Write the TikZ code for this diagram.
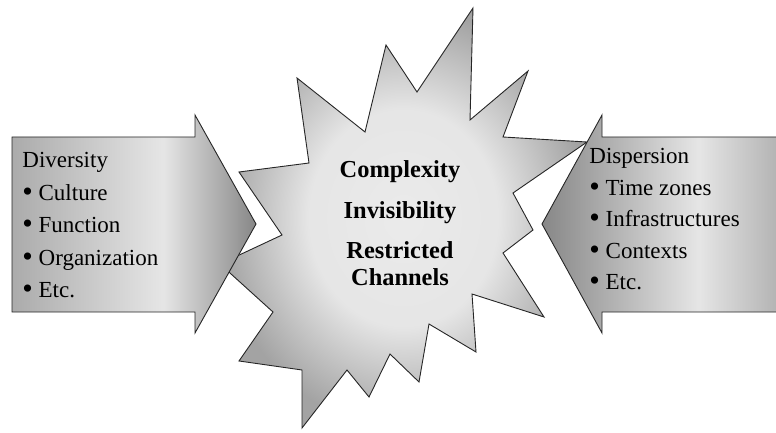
\documentclass[tikz,border=0pt]{standalone}
\usepackage{fontspec}
\setmainfont{Liberation Serif}
\usepackage{tikz}
\usetikzlibrary{positioning}

\pgfdeclarehorizontalshading{leftshade}{100bp}{color(0bp)=(black!33); color(25bp)=(black!33); color(56bp)=(black!10); color(75bp)=(black!47); color(100bp)=(black!47)}
\pgfdeclarehorizontalshading{rightshade}{100bp}{color(0bp)=(black!47); color(25bp)=(black!47); color(58bp)=(black!10); color(75bp)=(black!30); color(100bp)=(black!30)}
\pgfdeclareradialshading{burstshade}{\pgfpoint{0bp}{0bp}}{color(0bp)=(black!8); color(13bp)=(black!10); color(25bp)=(black!36); color(50bp)=(black!36)}

\newcommand{\lbul}{\raisebox{-0.7pt}{\fontsize{15}{14}\selectfont\textbullet}}

\tikzset{
	outline/.style={draw=black!85,line width=0.45pt,line join=miter},
	listtext/.style={anchor=base west,inner sep=0pt,font=\fontsize{11.5}{14}\selectfont},
	bursttext/.style={align=center,inner sep=0pt,font=\fontsize{12.2}{14}\selectfont\bfseries}
}

\begin{document}
\begin{tikzpicture}[x=0.5pt,y=-0.5pt]
		\useasboundingbox (0,0) rectangle (776,433);
		\draw[outline,shading=burstshade] (473,8) -- (470,120) -- (528,71) -- (503,137) -- (587,142) -- (513,193) -- (533,230) -- (503,253) -- (544,317) -- (472,294) -- (476,352) -- (429,324) -- (419,382) -- (390,354) -- (369,397) -- (347,370) -- (302,428) -- (302,370) -- (239,361) -- (273,312) -- (220,264) -- (282,235) -- (239,172) -- (309,163) -- (297,78) -- (365,132) -- (386,45) -- (417,92) -- cycle;
		\draw[outline,shading=leftshade] (12,137) -- (195,137) -- (195,115) -- (256,224) -- (195,333) -- (195,312) -- (12,312) -- cycle;
		\draw[outline,shading=rightshade] (779,137) -- (602,137) -- (602,115) -- (542,224) -- (602,333) -- (602,312) -- (779,312) -- cycle;
		\node[listtext] (diversity) at (22,167) {Diversity};
		\node[listtext] (culture) at (22,200) {\lbul\ Culture};
		\node[listtext] (function) at (22,232.5) {\lbul\ Function};
		\node[listtext] (organization) at (22,265) {\lbul\ Organization};
		\node[listtext] (etcleft) at (22,297.5) {\lbul\ Etc.};
		\node[listtext] (dispersion) at (589,163) {Dispersion};
		\node[listtext] (timezones) at (589,195) {\lbul\ Time zones};
		\node[listtext] (infrastructures) at (589,226.5) {\lbul\ Infrastructures};
		\node[listtext] (contexts) at (589,258) {\lbul\ Contexts};
		\node[listtext] (etcright) at (589,289.5) {\lbul\ Etc.};
		\node[bursttext,anchor=base] (complexity) at (400,177) {Complexity};
		\node[bursttext,anchor=base] (invisibility) at (400,218) {Invisibility};
		\node[bursttext,anchor=base] (restricted) at (400,258) {Restricted};
		\node[bursttext,anchor=base] (channels) at (400,285.5) {Channels};
	\end{tikzpicture}
\end{document}
